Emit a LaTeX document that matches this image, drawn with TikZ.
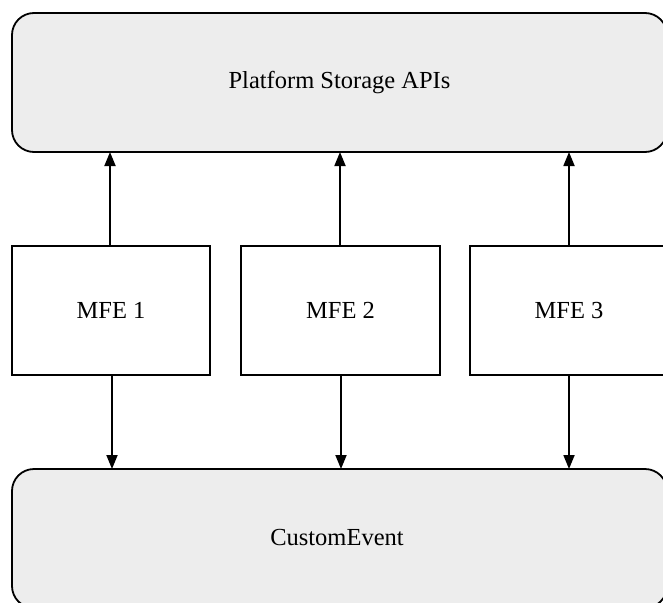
\documentclass[tikz,border=0pt]{standalone}
\usepackage{fontspec}
\setmainfont{Liberation Serif}
\usetikzlibrary{arrows.meta}
\definecolor{boxgray}{HTML}{EDEDED}
\begin{document}
\begin{tikzpicture}[x=1pt,y=-1pt,
  bigbox/.style={draw=black, line width=1.8pt, fill=boxgray, rounded corners=22pt,
    minimum width=655pt, minimum height=139pt, inner sep=0pt, outer sep=0pt},
  mfebox/.style={draw=black, line width=1.8pt, fill=white,
    minimum height=129pt, inner sep=0pt, outer sep=0pt},
  lbl/.style={font=\fontsize{24.5}{29}\selectfont, inner sep=0pt},
  arr/.style={line width=1.8pt, -{Triangle[length=14pt,width=11pt]}}]
\useasboundingbox (0,0) rectangle (663,602);
\clip (0,0) rectangle (663,602);
\node[bigbox] (top) at (339.5,82.5) {};
\node[lbl] at (top.center) {Platform Storage APIs};
\node[bigbox] (bot) at (339.5,538.5) {};
\node[lbl] (botlbl) at (337,538) {CustomEvent};
\node[mfebox, minimum width=198pt] (m1) at (111,310.5) {};
\node[lbl] at (m1.center) {MFE 1};
\node[mfebox, minimum width=199pt] (m2) at (340.5,310.5) {};
\node[lbl] at (m2.center) {MFE 2};
\node[mfebox, minimum width=198pt] (m3) at (569,310.5) {};
\node[lbl] at (m3.center) {MFE 3};
\draw[arr] ([xshift=-1pt]m1.north) -- ([xshift=-1pt]m1.north |- top.south);
\draw[arr] ([xshift=-0.5pt]m2.north) -- ([xshift=-0.5pt]m2.north |- top.south);
\draw[arr] (m3.north) -- (m3.north |- top.south);
\draw[arr] ([xshift=1pt]m1.south) -- ([xshift=1pt]m1.south |- bot.north);
\draw[arr] ([xshift=0.5pt]m2.south) -- ([xshift=0.5pt]m2.south |- bot.north);
\draw[arr] (m3.south) -- (m3.south |- bot.north);
\end{tikzpicture}
\end{document}
